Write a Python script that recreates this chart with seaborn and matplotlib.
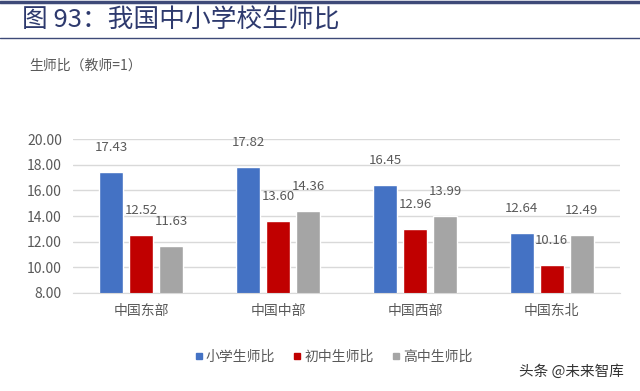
import pandas as pd
import matplotlib.pyplot as plt
import seaborn as sns

# data
regions = ['中国东部', '中国中部', '中国西部', '中国东北']
primary = [17.43, 17.82, 16.45, 12.64]
junior = [12.52, 13.60, 12.96, 10.16]
senior = [11.63, 14.36, 13.99, 12.49]
series_names = ['小学生师比', '初中生师比', '高中生师比']
colors = ['#4472C4', '#C00000', '#A5A5A5']

df = pd.DataFrame({'地区': regions * 3,
                   '类型': [s for s in series_names for _ in regions],
                   '值': primary + junior + senior})

sns.set_style('white')
plt.rcParams['font.family'] = ['Noto Sans CJK SC', 'DejaVu Sans']

fig = plt.figure(figsize=(6.4, 3.91), dpi=100)
ax = fig.add_axes([0.114, 0.251, 0.855, 0.393])

sns.barplot(data=df, x='地区', y='值', hue='类型', palette=colors, saturation=1,
            width=0.66, gap=0.2, ax=ax, legend=False)

for cont in ax.containers:
    ax.bar_label(cont, fmt='%.2f', padding=13, fontsize=9.5, color='#595959', clip_on=False)

ax.set_ylim(8, 20)
ax.set_yticks(range(8, 21, 2))
ax.set_yticklabels([f'{v:.2f}' for v in range(8, 21, 2)], fontsize=10, color='#595959')
ax.tick_params(axis='x', labelsize=10, labelcolor='#595959', length=0, pad=8)
ax.tick_params(axis='y', length=0, pad=8)
ax.yaxis.grid(True, color='#D9D9D9', linewidth=1)
ax.set_axisbelow(True)
ax.set_xlabel('')
ax.set_ylabel('')
for s in ['top', 'right', 'left']:
    ax.spines[s].set_visible(False)
ax.spines['bottom'].set_color('#D9D9D9')

# legend
handles = [plt.Line2D([], [], marker='s', linestyle='', color=c, markersize=5) for c in colors]
fig.legend(handles, series_names, loc='center', bbox_to_anchor=(0.52, 0.087), ncol=3,
           frameon=False, fontsize=10, labelcolor='#595959', handletextpad=0.1,
           columnspacing=1.2, handlelength=0.8)

# header
fig.add_artist(plt.Line2D([0.0, 1.0], [0.994, 0.994], color='#3E4A78', linewidth=2.5))
fig.add_artist(plt.Line2D([0.0, 1.0], [0.903, 0.903], color='#3E4A78', linewidth=1))
fig.text(0.035, 0.948, '图 93：我国中小学校生师比', fontsize=18.5, color='#2E3A6E', va='center')
fig.text(0.045, 0.833, '生师比（教师=1）', fontsize=10, color='#595959', va='center')

# watermark
fig.text(0.975, 0.05, '头条 @未来智库', fontsize=10.5, color='#333333', ha='right', va='center')

fig.savefig('out.png', dpi=100)
